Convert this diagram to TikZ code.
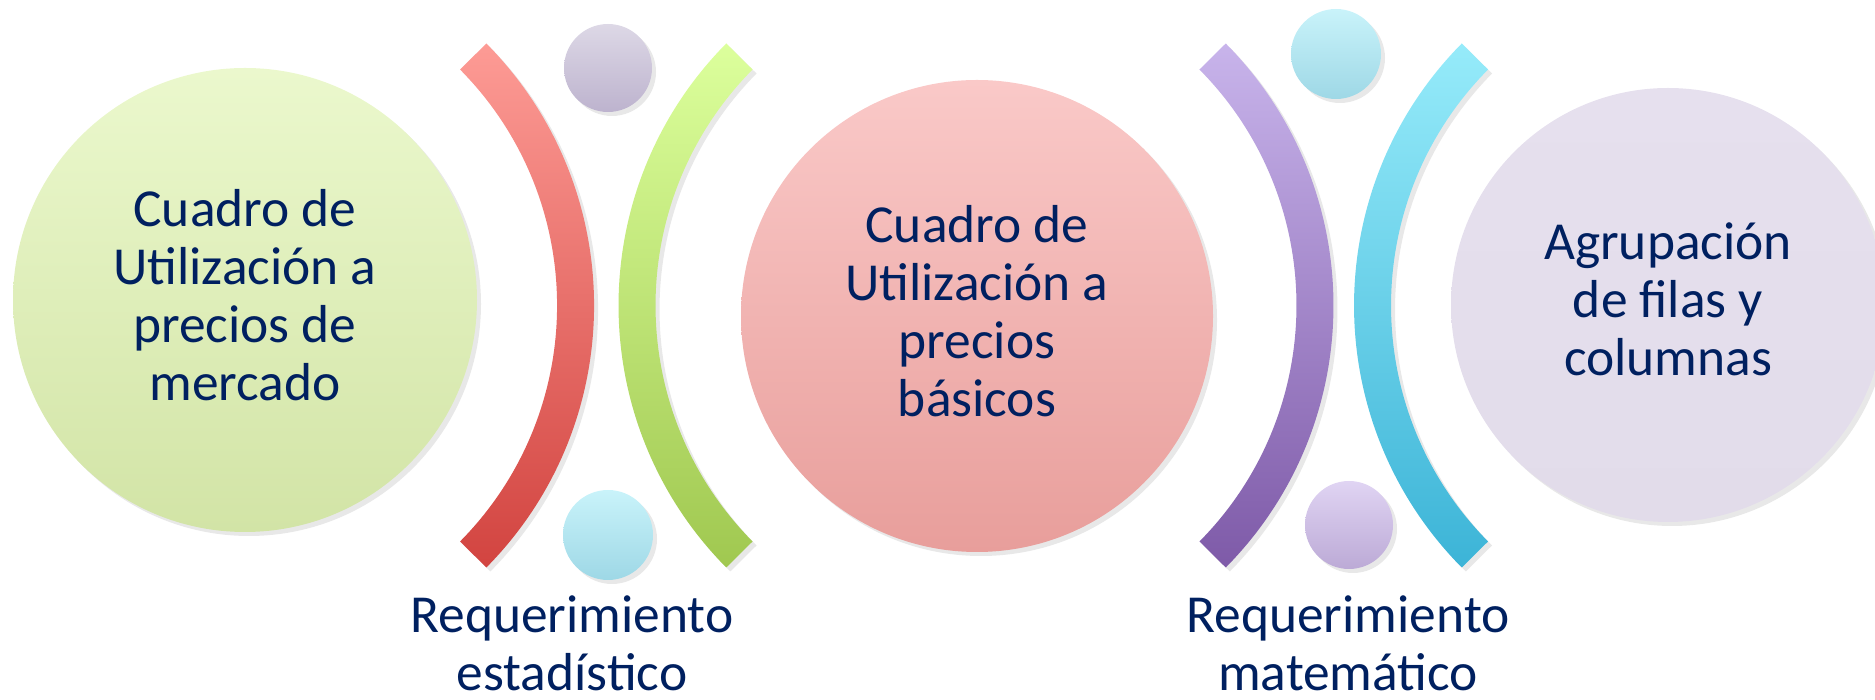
\documentclass[tikz,border=0pt]{standalone}
\usepackage{fontspec}
\setmainfont{Carlito}
\usetikzlibrary{shadows}
\definecolor{azul}{RGB}{0,32,96}
\definecolor{verdeA}{RGB}{235,248,205}
\definecolor{verdeB}{RGB}{210,228,166}
\definecolor{rosaA}{RGB}{250,201,200}
\definecolor{rosaB}{RGB}{232,158,155}
\definecolor{lilaA}{RGB}{230,224,238}
\definecolor{lilaB}{RGB}{226,220,234}
\definecolor{rojoA}{RGB}{253,155,149}
\definecolor{rojoB}{RGB}{210,68,64}
\definecolor{limaA}{RGB}{220,255,156}
\definecolor{limaB}{RGB}{160,200,80}
\definecolor{moradoA}{RGB}{200,180,235}
\definecolor{moradoB}{RGB}{126,90,168}
\definecolor{cianA}{RGB}{150,235,250}
\definecolor{cianB}{RGB}{60,180,215}
\definecolor{grisA}{RGB}{221,216,230}
\definecolor{grisB}{RGB}{189,179,206}
\definecolor{celA}{RGB}{201,243,250}
\definecolor{celB}{RGB}{158,216,230}
\definecolor{lilA}{RGB}{224,212,243}
\definecolor{lilB}{RGB}{188,170,214}

\begin{document}
\begin{tikzpicture}[x = 0.01cm, y = 0.01cm]
	\tikzstyle{sombra}=[drop shadow={opacity=0.18, shadow xshift=0.04cm, shadow yshift=-0.04cm}]
	\tikzstyle{texto}=[align=center, text=azul, inner sep=0, anchor=base,
	  font=\fontsize{15.2}{16.5}\selectfont]
	\useasboundingbox (0,0) rectangle (1875,700);
	\shade[sombra, top color=verdeA, bottom color=verdeB] (245,400) circle[radius=232];
	\shade[sombra, top color=rosaA, bottom color=rosaB] (977,384) circle[radius=236];
	\shade[sombra, top color=lilaA, bottom color=lilaB] (1668,395) circle[radius=217];
	\shade[sombra, top color=rojoA, bottom color=rojoB] (221.6,394.5) ++(44.7:372.5)
	  arc[start angle=44.7, end angle=-44.7, radius=372.5] -- ++(135.3:37)
	  arc[start angle=-44.7, end angle=44.7, radius=335.5] -- cycle;
	\shade[sombra, top color=limaA, bottom color=limaB] (991,394.5) ++(135.3:372.5)
	  arc[start angle=135.3, end angle=224.7, radius=372.5] -- ++(44.7:37)
	  arc[start angle=224.7, end angle=135.3, radius=335.5] -- cycle;
	\shade[sombra, top color=moradoA, bottom color=moradoB] (961,394.5) ++(44.7:372.5)
	  arc[start angle=44.7, end angle=-44.7, radius=372.5] -- ++(135.3:37)
	  arc[start angle=-44.7, end angle=44.7, radius=335.5] -- cycle;
	\shade[sombra, top color=cianA, bottom color=cianB] (1726.5,394.5) ++(135.3:372.5)
	  arc[start angle=135.3, end angle=224.7, radius=372.5] -- ++(44.7:37)
	  arc[start angle=224.7, end angle=135.3, radius=335.5] -- cycle;
	\shade[sombra, top color=grisA, bottom color=grisB] (608,632) circle[radius=44];
	\shade[sombra, top color=celA, bottom color=celB] (608,165) circle[radius=45];
	\shade[sombra, top color=celA, bottom color=celB] (1336,646) circle[radius=45];
	\shade[sombra, top color=lilA, bottom color=lilB] (1349,175) circle[radius=44];
	\node[texto] (mercado) at (245,299) {Cuadro de\\Utilización a\\precios de\\mercado};
	\node[texto] (basicos) at (977,283) {Cuadro de\\Utilización a\\precios\\básicos};
	\node[texto] (agrupacion) at (1668,324) {Agrupación\\de filas y\\columnas};
	\node[texto] (estadistico) at (572,9) {Requerimiento\\estadístico};
	\node[texto] (matematico) at (1348,9) {Requerimiento\\matemático};
\end{tikzpicture}
\end{document}
